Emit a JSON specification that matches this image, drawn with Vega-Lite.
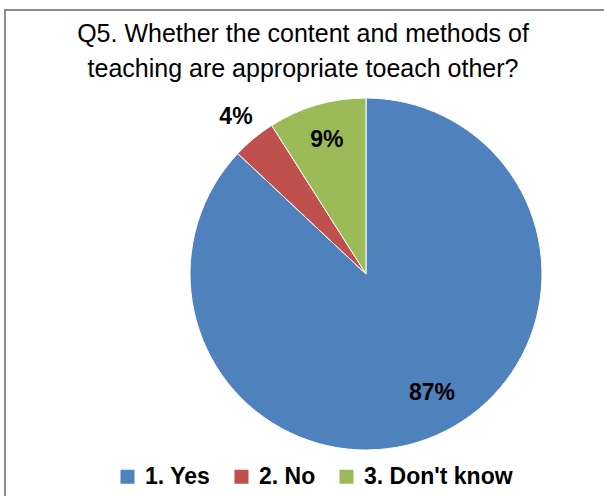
{
  "$schema": "https://vega.github.io/schema/vega-lite/v6.json",
  "autosize": "none",
  "padding": {"left": 5, "top": 10, "right": 0, "bottom": 0},
  "width": 722,
  "height": 528,
  "background": "white",
  "config": {
    "view": {"stroke": null},
    "font": "Liberation Sans"
  },
  "title": {
    "text": ["Q5. Whether the content and methods of", "teaching are appropriate toeach other?"],
    "anchor": "middle",
    "dx": -63,
    "offset": -93,
    "baseline": "alphabetic",
    "font": "Liberation Sans",
    "fontSize": 25,
    "fontWeight": "normal",
    "color": "#000000",
    "lineHeight": 35
  },
  "data": {
    "values": [
      {"category": "1. Yes", "value": 87, "label": "87%"},
      {"category": "2. No", "value": 4, "label": "4%"},
      {"category": "3. Don't know", "value": 9, "label": "9%"}
    ]
  },
  "layer": [
    {
      "mark": {"type": "rect", "fill": null, "stroke": "#8a8a8a", "strokeWidth": 1.5},
      "encoding": {}
    },
    {
      "mark": {"type": "arc", "outerRadius": 176, "stroke": "white", "strokeWidth": 1},
      "encoding": {
        "theta": {"field": "value", "type": "quantitative", "stack": true},
        "order": {"field": "category", "type": "ordinal"},
        "color": {
          "field": "category",
          "type": "nominal",
          "scale": {"domain": ["1. Yes", "2. No", "3. Don't know"], "range": ["#4F81BD", "#C0504D", "#9BBB59"]},
          "legend": {
            "title": null,
            "orient": "none",
            "direction": "horizontal",
            "legendX": 111,
            "legendY": 455,
            "symbolType": "square",
            "symbolSize": 196,
            "symbolStrokeWidth": 0,
            "symbolOpacity": 1,
            "labelFont": "Liberation Sans",
            "labelFontSize": 23,
            "labelFontWeight": "bold",
            "labelColor": "#000000",
            "labelOffset": 6,
            "columnPadding": 19
          }
        }
      }
    },
    {
      "mark": {"type": "text", "radius": 136, "thetaOffset": -0.098, "font": "Liberation Sans", "fontSize": 23, "fontWeight": "bold", "color": "#000000"},
      "encoding": {
        "theta": {"field": "value", "type": "quantitative", "stack": true},
        "order": {"field": "category", "type": "ordinal"},
        "detail": {"field": "category", "type": "nominal"},
        "text": {"condition": {"test": "datum.category !== '1. Yes'", "value": ""}, "field": "label", "type": "nominal"}
      }
    },
    {
      "mark": {"type": "text", "radius": 140, "font": "Liberation Sans", "fontSize": 23, "fontWeight": "bold", "color": "#000000"},
      "encoding": {
        "theta": {"field": "value", "type": "quantitative", "stack": true},
        "order": {"field": "category", "type": "ordinal"},
        "detail": {"field": "category", "type": "nominal"},
        "text": {"condition": {"test": "datum.category !== '3. Don\\'t know'", "value": ""}, "field": "label", "type": "nominal"}
      }
    },
    {
      "mark": {"type": "text", "radius": 204, "font": "Liberation Sans", "fontSize": 23, "fontWeight": "bold", "color": "#000000"},
      "encoding": {
        "theta": {"field": "value", "type": "quantitative", "stack": true},
        "order": {"field": "category", "type": "ordinal"},
        "detail": {"field": "category", "type": "nominal"},
        "text": {"condition": {"test": "datum.category !== '2. No'", "value": ""}, "field": "label", "type": "nominal"}
      }
    }
  ]
}
